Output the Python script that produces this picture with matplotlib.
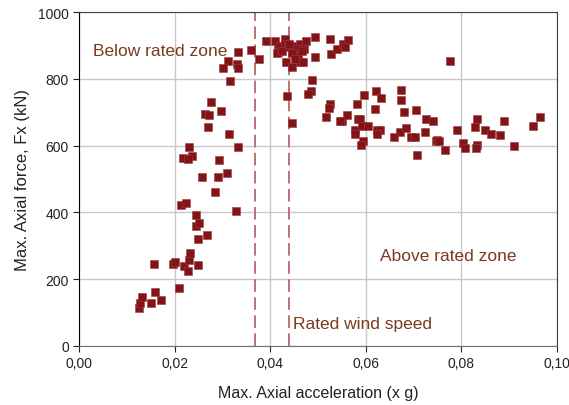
import matplotlib.pyplot as plt
from matplotlib.ticker import FuncFormatter

plt.rcParams["font.family"] = ["Liberation Sans", "DejaVu Sans"]

# Max. axial acceleration (x g) and max. axial force (kN)
acc = [
    0.0124, 0.0127, 0.0132, 0.0150, 0.0158, 0.0172, 0.0156, 0.0196, 0.0201, 0.0209,
    0.0220, 0.0228, 0.0230, 0.0231, 0.0248, 0.0248, 0.0268, 0.0244, 0.0250, 0.0245,
    0.0212, 0.0224, 0.0276, 0.0297, 0.0264, 0.0271, 0.0270, 0.0314, 0.0230, 0.0333,
    0.0218, 0.0237, 0.0228, 0.0293, 0.0258, 0.0291, 0.0309, 0.0285, 0.0329, 0.0333,
    0.0312, 0.0300, 0.0330, 0.0332, 0.0316, 0.0359, 0.0376, 0.0392, 0.0436, 0.0445,
    0.0410, 0.0417, 0.0417, 0.0420, 0.0431, 0.0431, 0.0438, 0.0448, 0.0462, 0.0475,
    0.0494, 0.0455, 0.0470, 0.0433, 0.0445, 0.0459, 0.0462, 0.0468, 0.0494, 0.0525,
    0.0527, 0.0539, 0.0553, 0.0563, 0.0557, 0.0488, 0.0485, 0.0478, 0.0525, 0.0523,
    0.0517, 0.0551, 0.0561, 0.0581, 0.0584, 0.0547, 0.0597, 0.0587, 0.0577, 0.0577,
    0.0592, 0.0605, 0.0595, 0.0589, 0.0621, 0.0632, 0.0620, 0.0623, 0.0630, 0.0623,
    0.0673, 0.0674, 0.0680, 0.0705, 0.0726, 0.0740, 0.0724, 0.0672, 0.0684, 0.0659,
    0.0695, 0.0703, 0.0708, 0.0747, 0.0776, 0.0749, 0.0754, 0.0766, 0.0792, 0.0804,
    0.0808, 0.0834, 0.0829, 0.0832, 0.0831, 0.0850, 0.0862, 0.0881, 0.0890, 0.0911,
    0.0951, 0.0964, 0.0414, 0.0424, 0.0446, 0.0452, 0.0466, 0.0440,
]
force = [
    113, 127, 145, 129, 161, 136, 245, 244, 252, 174,
    238, 225, 257, 278, 242, 319, 333, 358, 367, 391,
    422, 429, 731, 704, 696, 692, 657, 634, 597, 597,
    564, 568, 561, 558, 505, 506, 518, 462, 405, 880,
    855, 833, 845, 832, 793, 887, 860, 915, 750, 669,
    914, 890, 880, 900, 920, 905, 895, 900, 905, 914,
    927, 890, 890, 852, 835, 870, 852, 852, 865, 919,
    875, 890, 905, 917, 895, 797, 765, 755, 725, 712,
    687, 673, 692, 725, 680, 673, 752, 680, 648, 635,
    658, 660, 615, 602, 763, 743, 710, 647, 647, 635,
    766, 738, 700, 707, 680, 675, 642, 642, 652, 625,
    627, 627, 572, 615, 854, 618, 615, 587, 648, 608,
    592, 680, 657, 602, 593, 648, 635, 633, 673, 598,
    660, 685, 878, 885, 878, 860, 885, 905,
]

# zone limits (rated wind speed band)
rated_limits = [0.0367, 0.0439]

fig, ax = plt.subplots(figsize=(5.69, 4.06), dpi=100)
fig.subplots_adjust(left=0.1394, right=0.9784, bottom=0.1461, top=0.9672)

ax.grid(color="#c8c8c8", linewidth=1)
ax.set_axisbelow(True)

for xv in rated_limits:
    ax.axvline(xv, color="#b8676c", linewidth=1.3, linestyle=(0, (7, 3)))

ax.scatter(acc, force, marker="s", s=36, color="#821418", edgecolors="#9a3a3d",
           linewidths=0.4, zorder=3)

ax.set_xlim(0, 0.10)
ax.set_ylim(0, 1000)
ax.set_xticks([0, 0.02, 0.04, 0.06, 0.08, 0.10])
ax.set_yticks([0, 200, 400, 600, 800, 1000])
ax.xaxis.set_major_formatter(FuncFormatter(lambda v, p: f"{v:.2f}".replace(".", ",")))
ax.tick_params(labelsize=10, colors="#222222", length=4, direction="out")

for side in ["top", "right"]:
    ax.spines[side].set_color("#404040")
ax.spines["bottom"].set_color("#707070")
ax.spines["left"].set_color("black")

ax.set_xlabel("Max. Axial acceleration (x g)", fontsize=11.5, labelpad=11, color="#222222")
ax.set_ylabel("Max. Axial force, Fx (kN)", fontsize=12, labelpad=6, color="#222222")

txt_color = "#7b3a1e"
ax.text(0.0029, 885, "Below rated zone", fontsize=12.5, color=txt_color, va="center")
ax.text(0.063, 270, "Above rated zone", fontsize=12.5, color=txt_color, va="center")
ax.text(0.0447, 67, "Rated wind speed", fontsize=12.5, color=txt_color, va="center")

plt.savefig("out.png", dpi=100)
